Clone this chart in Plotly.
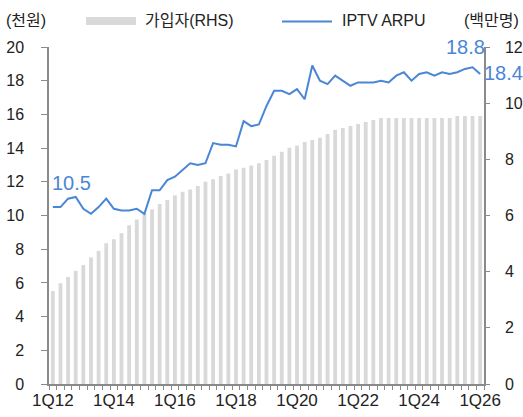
import plotly.graph_objects as go

quarters = [f"{q}Q{y:02d}" for y in range(12, 27) for q in range(1, 5)][:57]

arpu = [10.5, 10.5, 11.0, 11.1, 10.4, 10.1, 10.5, 11.0, 10.4, 10.3,
        10.3, 10.4, 10.1, 11.5, 11.5, 12.1, 12.3, 12.7, 13.1, 13.0,
        13.1, 14.3, 14.2, 14.2, 14.1, 15.6, 15.3, 15.4, 16.5, 17.4,
        17.4, 17.2, 17.5, 16.9, 18.9, 18.0, 17.8, 18.3, 18.0, 17.7,
        17.9, 17.9, 17.9, 18.0, 17.9, 18.3, 18.5, 18.0, 18.4, 18.5,
        18.3, 18.5, 18.4, 18.5, 18.7, 18.8, 18.4]

subscribers = [3.31, 3.59, 3.81, 4.03, 4.24, 4.51, 4.74, 5.01, 5.15, 5.37,
               5.65, 5.86, 6.08, 6.22, 6.41, 6.55, 6.72, 6.85, 6.93, 7.05,
               7.20, 7.29, 7.41, 7.50, 7.64, 7.70, 7.78, 7.86, 7.98, 8.13,
               8.27, 8.41, 8.49, 8.62, 8.69, 8.77, 8.90, 9.05, 9.12, 9.19,
               9.26, 9.33, 9.40, 9.47, 9.47, 9.47, 9.47, 9.47, 9.47, 9.47,
               9.47, 9.47, 9.47, 9.54, 9.54, 9.54, 9.54]

BLUE = "#4a86d6"
GRAY_BAR = "#d9d9d9"
AXIS = "#8a8a8a"
TXT = "#222222"
FONT = "Liberation Sans, Arial, Noto Sans CJK KR, sans-serif"

fig = go.Figure()
fig.add_trace(go.Bar(x=quarters, y=subscribers, marker_color=GRAY_BAR,
                     marker_line_width=0, yaxis="y", name="가입자(RHS)",
                     showlegend=False))
fig.add_trace(go.Scatter(x=quarters, y=arpu, mode="lines",
                         line=dict(color=BLUE, width=2), yaxis="y2",
                         name="IPTV ARPU", showlegend=False))

W, H = 523, 417
ml, mr, mt, mb = 49, 39, 47, 33
pw, ph = W - ml - mr, H - mt - mb

def px(x):
    return (x - ml) / pw

def py(y):
    return (H - mb - y) / ph

annotations = [
    dict(text="(천원)", x=px(4), y=py(20), xanchor="left", yanchor="middle",
         font=dict(size=16, color=TXT)),
    dict(text="가입자(RHS)", x=px(143), y=py(20), xanchor="left", yanchor="middle",
         font=dict(size=16, color=TXT)),
    dict(text="IPTV ARPU", x=px(340), y=py(20), xanchor="left", yanchor="middle",
         font=dict(size=16, color=TXT)),
    dict(text="(백만명)", x=px(521), y=py(20), xanchor="right", yanchor="middle",
         font=dict(size=16, color=TXT)),
]
for a in annotations:
    a.update(xref="paper", yref="paper", showarrow=False)

# data labels
annotations += [
    dict(x=quarters[0], y=arpu[0], xref="x", yref="y2", text=f"{arpu[0]:.1f}",
         xanchor="left", yanchor="middle", yshift=24, xshift=-3,
         showarrow=False, font=dict(size=20, color=BLUE)),
    dict(x=quarters[55], y=arpu[55], xref="x", yref="y2", text=f"{arpu[55]:.1f}",
         xanchor="center", yanchor="middle", yshift=20, xshift=-7,
         showarrow=False, font=dict(size=20, color=BLUE)),
    dict(x=quarters[56], y=arpu[56], xref="x", yref="y2", text=f"{arpu[56]:.1f}",
         xanchor="left", yanchor="middle", yshift=1, xshift=2,
         showarrow=False, font=dict(size=20, color=BLUE)),
]

shapes = [
    dict(type="rect", xref="paper", yref="paper", x0=px(86), x1=px(136),
         y0=py(25), y1=py(17), fillcolor=GRAY_BAR, line=dict(width=0)),
    dict(type="line", xref="paper", yref="paper", x0=px(282), x1=px(332),
         y0=py(21.5), y1=py(21.5), line=dict(color=BLUE, width=2)),
]

fig.update_layout(
    width=W, height=H,
    margin=dict(l=ml, r=mr, t=mt, b=mb, autoexpand=False),
    paper_bgcolor="white", plot_bgcolor="white",
    font=dict(family=FONT, size=15, color=TXT),
    bargap=0.5,
    showlegend=False,
    annotations=annotations,
    shapes=shapes,
    xaxis=dict(type="category", range=[-0.5, 56.5], tickson="boundaries",
               tickmode="linear", tick0=0, dtick=1,
               ticks="outside", ticklen=4, tickcolor=AXIS, tickwidth=1,
               ticklabelstep=8, showline=True, linecolor=AXIS, linewidth=1.5,
               showgrid=False, tickangle=0, automargin=False,
               tickfont=dict(size=17, color=TXT)),
    yaxis=dict(side="right", range=[0, 12], dtick=2, tick0=0,
               ticks="outside", ticklen=4, tickcolor=AXIS, showline=True,
               linecolor=AXIS, linewidth=1.5, showgrid=False, zeroline=False,
               automargin=False,
               ticklabelstandoff=12, tickfont=dict(size=16, color=TXT)),
    yaxis2=dict(side="left", overlaying="y", anchor="x", range=[0, 20],
                dtick=2, tick0=0, ticks="outside", ticklen=6, tickcolor=AXIS,
                showline=True, linecolor=AXIS, linewidth=1.5, showgrid=False,
                zeroline=False, ticklabelstandoff=14, automargin=False,
                tickfont=dict(size=16, color=TXT)),
)

fig.write_html("out.html",
               config={"displayModeBar": False},
               post_script="document.body.style.margin='0';document.body.style.overflow='hidden';")
